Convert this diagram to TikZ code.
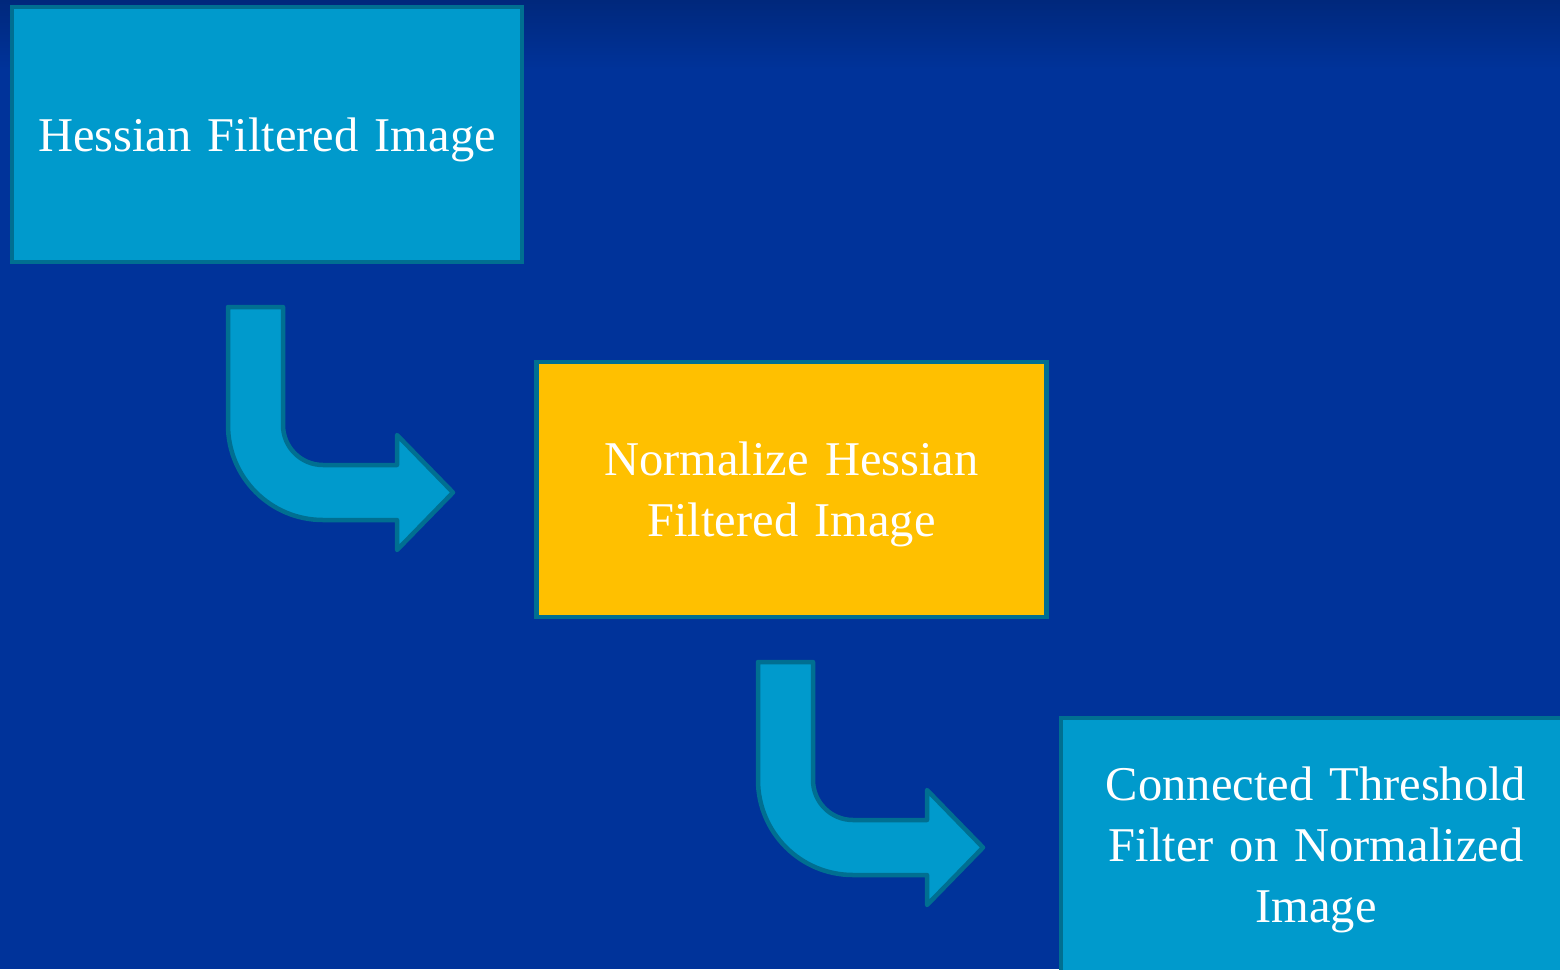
\documentclass[tikz,border=0pt]{standalone}
\usepackage{fontspec}
\setmainfont{Liberation Serif}
\definecolor{bgblue}{HTML}{00339A}
\definecolor{bgtop}{HTML}{00287C}
\definecolor{boxblue}{HTML}{009ACC}
\definecolor{edge}{HTML}{006F91}
\definecolor{gold}{HTML}{FFC000}
\begin{document}
\begin{tikzpicture}[x=1pt,y=-1pt,
  stepbox/.style={draw=edge, line width=4.5pt, minimum width=510pt, minimum height=255pt,
    inner sep=0pt},
  steptext/.style={text width=490pt, align=center, text=white, inner sep=0pt,
    font=\fontsize{48.5}{61}\selectfont},
  bent/.style={fill=boxblue, draw=edge, line width=4.5pt, line join=round}]
\useasboundingbox (0,0) rectangle (1560,969);
\clip (0,0) rectangle (1560,969);
\fill[bgblue] (0,0) rectangle (1560,969);
\shade[top color=bgtop, bottom color=bgblue] (0,0) rectangle (1560,70);

\node[stepbox, fill=boxblue] (b1) at (267,134.5) {};
\node[stepbox, fill=gold] (b2) at (791.5,489.5) {};
\node[stepbox, fill=boxblue] (b3) at (1316,845.5) {};
\node[steptext] (t1) at ([yshift=-5pt]b1.center) {Hessian Filtered Image};
\node[steptext] (t2) at ([yshift=-5pt]b2.center) {Normalize Hessian\\Filtered Image};
\node[steptext] (t3) at ([yshift=-4pt]b3.center) {Connected Threshold\\Filter on Normalized\\Image};

\foreach \s in {{(0,0)},{(530,355)}}{
  \draw[bent, shift=\s] (228,307) -- (283,307) -- (283,425)
    arc[start angle=180, end angle=90, radius=40] -- (397,465) -- (397,435)
    -- (453,492.5) -- (397,550) -- (397,520) -- (323,520)
    arc[start angle=90, end angle=180, radius=95] -- cycle;
}
\end{tikzpicture}
\end{document}
